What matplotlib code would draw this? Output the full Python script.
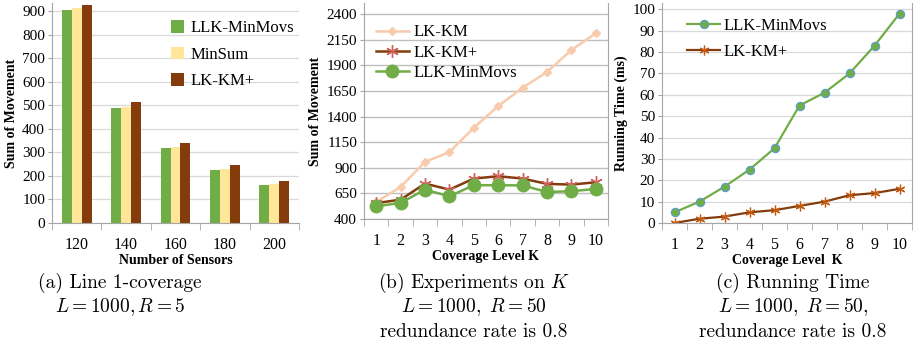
import numpy as np
import matplotlib
matplotlib.use("Agg")
import matplotlib.pyplot as plt
from matplotlib.ticker import FixedLocator

plt.rcParams['font.family'] = ['Liberation Serif', 'DejaVu Serif']
plt.rcParams['mathtext.fontset'] = 'cm'

# (a) line 1-coverage
sensors = ["120", "140", "160", "180", "200"]
a_llk = [905, 487, 318, 224, 161]
a_minsum = [915, 495, 325, 228, 165]
a_kmplus = [928, 513, 341, 246, 178]

# (b) experiments on K
levels = [1, 2, 3, 4, 5, 6, 7, 8, 9, 10]
b_km = [566, 713, 958, 1053, 1291, 1503, 1682, 1836, 2051, 2214]
b_kmplus = [555, 589, 746, 687, 795, 818, 795, 743, 736, 759]
b_llk = [525, 557, 687, 622, 730, 730, 728, 664, 671, 694]

# (c) running time
c_llk = [5, 10, 17, 25, 35, 55, 61, 70, 83, 98]
c_kmplus = [0, 2, 3, 5, 6, 8, 10, 13, 14, 16]

GREEN = "#70AD47"
YELLOW = "#FFE699"
BROWN = "#843C0C"
PEACH = "#F8CBAD"
STAR = "#D0605A"
AXC = "#A6A6A6"
GRID = "#D9D9D9"

W, H = 914, 350
fig = plt.figure(figsize=(W / 100, H / 100), dpi=100)


def box(x0, x1, ytop, ybot):
    return [x0 / W, 1 - ybot / H, (x1 - x0) / W, (ybot - ytop) / H]


def style(ax, n, right=False):
    for s in ["top", "right"]:
        ax.spines[s].set_visible(False)
    if right:
        ax.spines["right"].set_visible(True)
        ax.spines["right"].set_color(AXC)
    ax.spines["left"].set_color(AXC)
    ax.spines["bottom"].set_color(AXC)
    ax.set_xlim(-0.5, n - 0.5)
    ax.set_xticks(range(n))
    ax.xaxis.set_minor_locator(FixedLocator(np.arange(n + 1) - 0.5))
    ax.tick_params(axis="x", which="major", length=0, labelsize=11.5, pad=10)
    ax.tick_params(axis="x", which="minor", length=5, color=AXC)
    ax.tick_params(axis="y", length=3, color=AXC, labelsize=11, pad=2)
    ax.yaxis.grid(True, color=GRID, lw=0.9)
    ax.set_axisbelow(True)


# panel a
ax1 = fig.add_axes(box(52, 299, 3, 223))
x = np.arange(len(sensors))
w = 0.2
ax1.bar(x - w, a_llk, w, color=GREEN, label="LLK-MinMovs")
ax1.bar(x, a_minsum, w, color=YELLOW, label="MinSum")
ax1.bar(x + w, a_kmplus, w, color=BROWN, label="LK-KM+")
style(ax1, len(sensors))
ax1.set_xticklabels(sensors)
ax1.set_ylim(0, 935)
ax1.set_yticks(range(0, 901, 100))
ax1.set_xlabel("Number of Sensors", fontweight="bold", fontsize=10, labelpad=1)
ax1.set_ylabel("Sum of Movement", fontweight="bold", fontsize=10, labelpad=3)
ax1.legend(loc="upper left", bbox_to_anchor=(0.42, 0.99), frameon=False, fontsize=12,
           handlelength=0.8, handleheight=0.8, labelspacing=0.62, handletextpad=0.4)

# panel b
ax2 = fig.add_axes(box(364, 608, 3, 219))
xb = np.arange(len(levels))
ax2.plot(xb, b_km, color=PEACH, lw=1.8, marker="D", ms=4, mfc=PEACH, mec=PEACH, label="LK-KM")
ax2.plot(xb, b_kmplus, color=BROWN, lw=1.8, marker=(6, 2, 0), ms=9, mec=STAR, mew=1.0, label="LK-KM+")
ax2.plot(xb, b_llk, color=GREEN, lw=1.8, marker="o", ms=9, mfc=GREEN, mec=GREEN, label="LLK-MinMovs")
style(ax2, len(levels), right=True)
ax2.yaxis.grid(True, color="#BFBFBF", lw=1.0)
ax2.set_xticklabels([str(v) for v in levels])
ax2.set_ylim(400, 2510)
ax2.set_yticks(range(400, 2401, 250))
ax2.set_xlabel("Coverage Level K", fontweight="bold", fontsize=10, labelpad=1)
ax2.set_ylabel("Sum of Movement", fontweight="bold", fontsize=10, labelpad=3)
ax2.legend(loc="upper left", bbox_to_anchor=(0.0, 0.955), frameon=False, fontsize=12,
           handlelength=2.0, labelspacing=0.25, handletextpad=0.3, borderaxespad=0.3)

# panel c
ax3 = fig.add_axes(box(662, 912, 3, 223))
ax3.plot(xb, c_llk, color=GREEN, lw=1.6, marker="o", ms=6, mfc=GREEN, mec="#5B9BD5", mew=0.8,
         label="LLK-MinMovs")
ax3.plot(xb, c_kmplus, color=BROWN, lw=1.6, marker=(6, 2, 0), ms=7, mec="#C55A11", mew=0.9,
         label="LK-KM+")
style(ax3, len(levels), right=True)
ax3.set_xticklabels([str(v) for v in levels])
ax3.set_ylim(0, 103)
ax3.set_yticks(range(0, 101, 10))
ax3.set_xlabel("Coverage Level  K", fontweight="bold", fontsize=10, labelpad=1)
ax3.set_ylabel("Running Time (ms)", fontweight="bold", fontsize=10, labelpad=3)
ax3.legend(loc="upper left", bbox_to_anchor=(0.04, 1.0), frameon=False, fontsize=12,
           handlelength=2.0, labelspacing=0.6, handletextpad=0.2)

# captions
cap = dict(family="cmr10", fontsize=14, ha="center", va="center")
fig.text(120 / W, 1 - 283 / H, "(a) Line 1-coverage", **cap)
fig.text(120 / W, 1 - 307 / H, r"$L = 1000, R = 5$", **cap)
fig.text(474 / W, 1 - 283 / H, r"(b) Experiments on $K$", **cap)
fig.text(474 / W, 1 - 307 / H, r"$L = 1000,\ R = 50$", **cap)
fig.text(474 / W, 1 - 332 / H, "redundance rate is 0.8", **cap)
fig.text(793 / W, 1 - 283 / H, "(c) Running Time", **cap)
fig.text(793 / W, 1 - 307 / H, r"$L = 1000,\ R = 50,$", **cap)
fig.text(793 / W, 1 - 332 / H, "redundance rate is 0.8", **cap)

fig.savefig("out.png", dpi=100)
